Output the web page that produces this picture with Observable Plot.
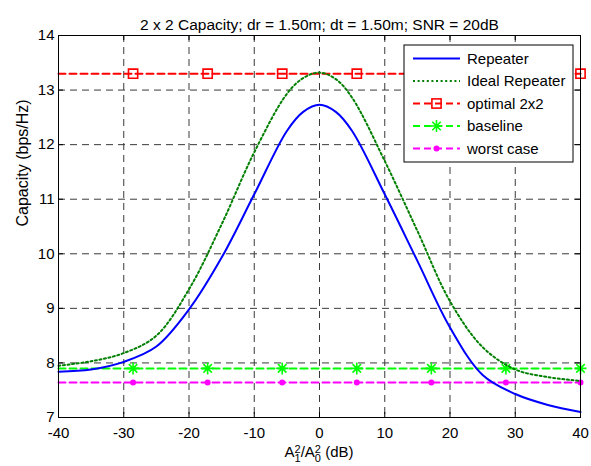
<!DOCTYPE html>
<html><head><meta charset="utf-8">
<script src="https://cdn.jsdelivr.net/npm/d3@7"></script>
<script src="https://cdn.jsdelivr.net/npm/@observablehq/plot@0.6"></script>
<style>body{margin:0;background:#fff}#chart{width:591px;height:466px}</style>
</head><body><div id="chart"></div>
<script>
// ---- data ----
const xs            = [-40, -35, -30, -25, -20, -15, -10, -5, -2.5, 0, 2.5, 5, 10, 15, 20, 25, 30, 35, 40];
const repeater      = [7.84, 7.88, 8.02, 8.30, 8.98, 9.93, 11.09, 12.25, 12.60, 12.73, 12.60, 12.25, 11.09, 9.87, 8.65, 7.78, 7.43, 7.23, 7.10];
const idealRepeater = [7.95, 8.03, 8.18, 8.50, 9.35, 10.54, 11.86, 12.93, 13.22, 13.32, 13.20, 12.86, 11.70, 10.42, 9.13, 8.29, 7.88, 7.74, 7.67];
const optimalLevel  = 13.3;
const baselineLevel = 7.9;
const worstLevel    = 7.64;
const lineX   = [-40, 40];
const markerX = [-28.571, -17.143, -5.714, 5.714, 17.143, 28.571, 40];
const xTicks = [-40, -30, -20, -10, 0, 10, 20, 30, 40];
const yTicks = [7, 8, 9, 10, 11, 12, 13, 14];
const title  = "2 x 2 Capacity; dr = 1.50m; dt = 1.50m; SNR = 20dB";
const yLabel = "Capacity (bps/Hz)";
const legendNames = ["Repeater", "Ideal Repeater", "optimal 2x2", "baseline", "worst case"];

// ---- styles ----
const C = {rep: "#0000ff", ideal: "#007f00", opt: "#ff0000", base: "#00ff00", worst: "#ff00ff"};
const DASH = "7,4";
const font = "'Liberation Sans', Arial, Helvetica, sans-serif";
const FS = 15;

const curveRows = xs.map((x, i) => ({x, rep: repeater[i], ideal: idealRepeater[i]}));
const flat = (v) => lineX.map(x => ({x, y: v}));
const marks = (v) => markerX.map(x => ({x, y: v}));

const star8 = {
  draw(ctx, size) {
    const r = Math.sqrt(size / Math.PI), d = r * Math.SQRT1_2;
    ctx.moveTo(-r, 0); ctx.lineTo(r, 0);
    ctx.moveTo(0, -r); ctx.lineTo(0, r);
    ctx.moveTo(-d, -d); ctx.lineTo(d, d);
    ctx.moveTo(-d, d); ctx.lineTo(d, -d);
  }
};

const W = 591, H = 466, ML = 58, MR = 11, MT = 35, MB = 49;
const innerW = W - ML - MR, innerH = H - MT - MB;
const inner = (v) => v !== -40 && v !== 40 && v !== 7 && v !== 14;

const plot = Plot.plot({
  width: W, height: H,
  marginLeft: ML, marginRight: MR, marginTop: MT, marginBottom: MB,
  style: {fontFamily: font, fontSize: FS + "px", background: "#fff", color: "#000"},
  x: {domain: [-40, 40], label: null},
  y: {domain: [7, 14], label: null},
  marks: [
    Plot.ruleX(xTicks.filter(inner), {stroke: "#3a3a3a", strokeWidth: 1, strokeDasharray: "7,5"}),
    Plot.ruleY(yTicks.filter(inner), {stroke: "#3a3a3a", strokeWidth: 1, strokeDasharray: "7,5"}),
    // inward ticks
    Plot.ruleX(xTicks, {stroke: "#000", insetTop: innerH - 5}),
    Plot.ruleX(xTicks, {stroke: "#000", insetBottom: innerH - 5}),
    Plot.ruleY(yTicks, {stroke: "#000", insetRight: innerW - 5}),
    Plot.ruleY(yTicks, {stroke: "#000", insetLeft: innerW - 5}),
    Plot.axisX(xTicks, {tickSize: 0, tickPadding: 10, tickFormat: d => String(d), label: null, fontSize: FS}),
    Plot.axisY(yTicks, {tickSize: 0, tickPadding: 4, tickFormat: d => String(d), label: null, fontSize: FS}),
    // constant references
    Plot.line(flat(worstLevel), {x: "x", y: "y", stroke: C.worst, strokeWidth: 2, strokeDasharray: DASH}),
    Plot.dot(marks(worstLevel), {x: "x", y: "y", r: 3, fill: C.worst, stroke: null}),
    Plot.line(flat(baselineLevel), {x: "x", y: "y", stroke: C.base, strokeWidth: 2, strokeDasharray: DASH}),
    Plot.dot(marks(baselineLevel), {x: "x", y: "y", r: 6, symbol: star8, stroke: C.base, strokeWidth: 1.6, fill: "none"}),
    Plot.line(flat(optimalLevel), {x: "x", y: "y", stroke: C.opt, strokeWidth: 2, strokeDasharray: DASH}),
    Plot.dot(marks(optimalLevel), {x: "x", y: "y", r: 5.2, symbol: "square", stroke: C.opt, strokeWidth: 1.6, fill: "none"}),
    // curves
    Plot.line(curveRows, {x: "x", y: "ideal", stroke: C.ideal, strokeWidth: 2, strokeDasharray: "2,2.6", curve: "catmull-rom"}),
    Plot.line(curveRows, {x: "x", y: "rep", stroke: C.rep, strokeWidth: 2, curve: "catmull-rom"}),
    Plot.frame({stroke: "#000", strokeWidth: 1}),
    Plot.text([title], {frameAnchor: "top", dy: -17, fontSize: 15.5, fill: "#000"}),
    Plot.text([yLabel], {frameAnchor: "left", dx: -36, rotate: -90, fontSize: 16, fill: "#000"})
  ]
});

document.getElementById("chart").appendChild(plot);
const svg = d3.select(plot);
const sx = plot.scale("x"), sy = plot.scale("y");

// x label with stacked super/subscripts
const xl = svg.append("text")
  .attr("x", sx.apply(0)).attr("y", H - 9)
  .attr("text-anchor", "middle").attr("font-family", font).attr("font-size", FS).attr("fill", "#000");
xl.append("tspan").text("A");
xl.append("tspan").attr("font-size", 11).attr("dy", -4.5).text("2");
xl.append("tspan").attr("font-size", 11).attr("dx", -6.1).attr("dy", 9.5).text("1");
xl.append("tspan").attr("dy", -5).text("/A");
xl.append("tspan").attr("font-size", 11).attr("dy", -4.5).text("2");
xl.append("tspan").attr("font-size", 11).attr("dx", -6.1).attr("dy", 9.5).text("0");
xl.append("tspan").attr("dy", -5).text(" (dB)");

// legend box
const lgW = 169, lgH = 117;
const lgX = sx.apply(40) - 7 - lgW, lgY = sy.apply(14) + 10;
const lg = svg.append("g").attr("transform", `translate(${lgX},${lgY})`);
lg.append("rect").attr("width", lgW).attr("height", lgH).attr("fill", "#fff").attr("stroke", "#000");
const styles = [
  {stroke: C.rep, dash: null, marker: null},
  {stroke: C.ideal, dash: "2,2.6", marker: null},
  {stroke: C.opt, dash: DASH, marker: "square"},
  {stroke: C.base, dash: DASH, marker: "star"},
  {stroke: C.worst, dash: DASH, marker: "dot"}
];
legendNames.forEach((name, i) => {
  const yy = 13.5 + i * 22.5;
  const s = styles[i];
  lg.append("line").attr("x1", 9).attr("x2", 56).attr("y1", yy).attr("y2", yy)
    .attr("stroke", s.stroke).attr("stroke-width", 2).attr("stroke-dasharray", s.dash);
  if (s.marker === "square") {
    lg.append("rect").attr("x", 32.5 - 4.6).attr("y", yy - 4.6).attr("width", 9.2).attr("height", 9.2)
      .attr("fill", "none").attr("stroke", s.stroke).attr("stroke-width", 1.6);
  } else if (s.marker === "star") {
    lg.append("path").attr("transform", `translate(32.5,${yy})`)
      .attr("d", d3.symbol(star8, 36 * Math.PI)()).attr("stroke", s.stroke).attr("stroke-width", 1.6).attr("fill", "none");
  } else if (s.marker === "dot") {
    lg.append("circle").attr("cx", 32.5).attr("cy", yy).attr("r", 3).attr("fill", s.stroke);
  }
  lg.append("text").attr("x", 63).attr("y", yy).attr("dy", "0.35em").attr("text-anchor", "start")
    .attr("font-family", font).attr("font-size", FS).attr("fill", "#000").text(name);
});
</script>
</body></html>
